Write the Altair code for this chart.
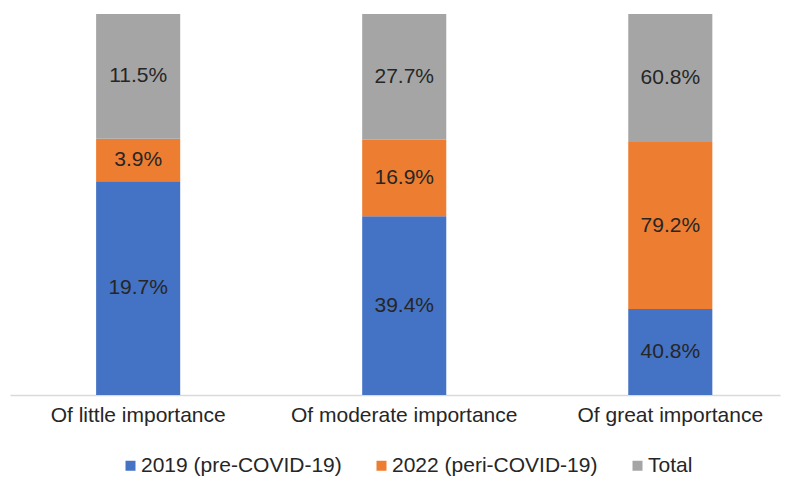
import altair as alt
import pandas as pd

categories = ["Of little importance", "Of moderate importance", "Of great importance"]
series = ["2019 (pre-COVID-19)", "2022 (peri-COVID-19)", "Total"]
colors = ["#4472C4", "#ED7D31", "#A5A5A5"]
values_2019 = [19.7, 39.4, 40.8]
values_2022 = [3.9, 16.9, 79.2]
values_total = [11.5, 27.7, 60.8]

rows = []
for i, c in enumerate(categories):
    for j, (s, v) in enumerate(zip(series, [values_2019[i], values_2022[i], values_total[i]])):
        rows.append({"cat": c, "series": s, "idx": j, "value": v, "label": f"{v:.1f}%"})
df = pd.DataFrame(rows)

FONT = "Liberation Sans"

base = alt.Chart(df).transform_stack(
    stack="value", groupby=["cat"], sort=[alt.SortField("idx", order="ascending")],
    offset="normalize", as_=["y0", "y1"]
).transform_calculate(mid="(datum.y0 + datum.y1) / 2")

x = alt.X("cat:N", sort=categories, title=None,
          scale=alt.Scale(paddingInner=0.684, paddingOuter=0.289, align=0.56),
          axis=alt.Axis(labelAngle=0, labelFont=FONT, labelFontSize=21, labelColor="#262626",
                        labelPadding=9, labelLimit=0, ticks=False,
                        domainColor="#D9D9D9", domainWidth=1.5))

yscale = alt.Scale(domain=[0, 1], nice=False)

bars = base.mark_bar().encode(
    x=x,
    y=alt.Y("y0:Q", scale=yscale, axis=None),
    y2="y1:Q",
    color=alt.Color("series:N", sort=series,
                    scale=alt.Scale(domain=series, range=colors),
                    legend=alt.Legend(title=None, orient="none", direction="horizontal",
                                      legendX=110, legendY=441,
                                      symbolType="square", symbolSize=100, symbolStrokeWidth=0,
                                      labelFont=FONT, labelFontSize=21, labelColor="#262626",
                                      labelLimit=0, labelOffset=0, columnPadding=29)),
)

texts = base.mark_text(font=FONT, fontSize=21, color="#262626").encode(
    x=alt.X("cat:N", sort=categories),
    y=alt.Y("mid:Q", scale=yscale),
    text="label:N",
)

chart = (bars + texts).properties(
    width=770, height=381,
    autosize=alt.AutoSizeParams(type="none"),
    padding={"left": 2, "top": 6, "right": 3, "bottom": 84},
).configure_view(stroke=None)

chart.save("out.html", embed_options={"renderer": "svg", "actions": False})
